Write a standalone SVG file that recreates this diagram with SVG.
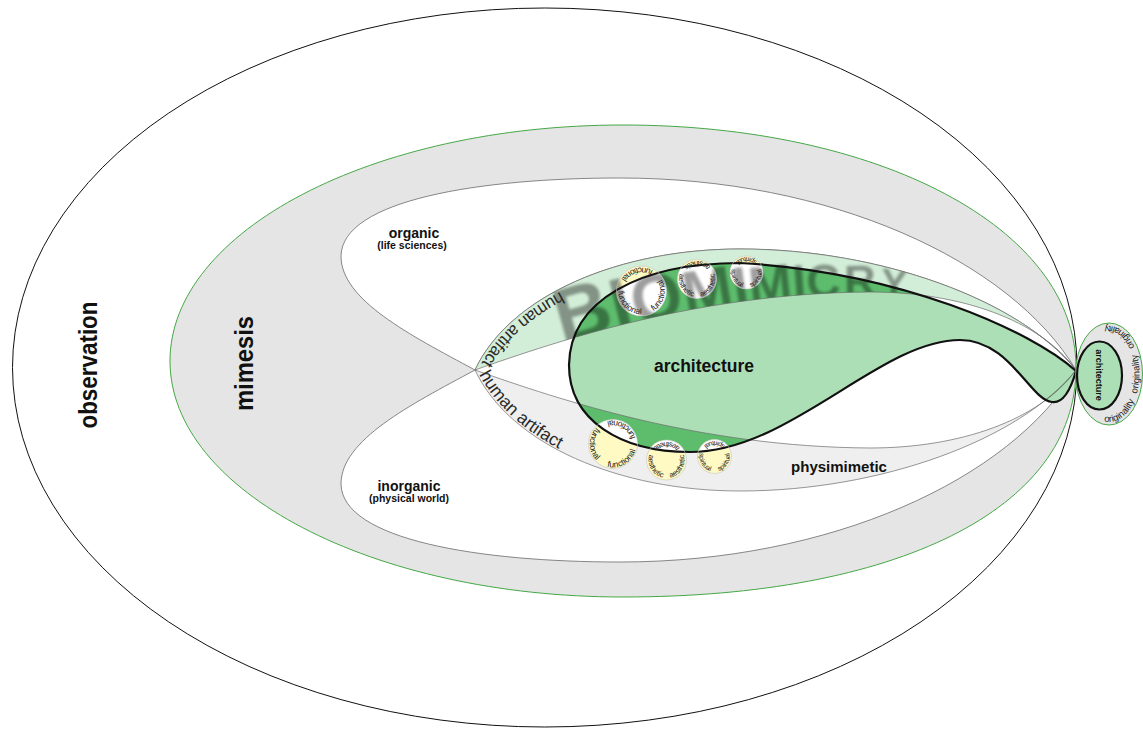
<svg xmlns="http://www.w3.org/2000/svg" width="1143" height="730" viewBox="0 0 1143 730">
<defs>
<style>
.lbl{font-family:"Liberation Sans",Arial,sans-serif;font-weight:bold;fill:#111}
.thin{font-family:"Liberation Sans",Arial,sans-serif;fill:#2a2a2a}
.ct{font-family:"Liberation Sans",Arial,sans-serif;fill:#1e1e1e;text-anchor:middle}
.edge{fill:none;stroke:#6a6a6a;stroke-width:0.7}
.ycirc{fill:#fffac4}
.cedge{fill:none;stroke:#c4c4c4;stroke-width:0.6}
</style>
<clipPath id="cUB"><path d="M475,370 C510,295 620,249 740,249 C880,249 1020,300 1076,370 C1040,320 960,292 870,292 C700,293 560,340 475,370 Z"/></clipPath>
<clipPath id="cLB"><path d="M475,370 C510,445 620,491 740,491 C880,491 1020,440 1076,370 C1040,420 960,448 870,448 C700,447 560,400 475,370 Z"/></clipPath>
<clipPath id="cBlob"><path d="M1076,371 C1030,330 900,272 740,263 C640,263 570,300 569,365 C569,420 620,452 690,452 C790,452 880,340 960,340 C1010,340 1030,400 1052,402 C1065,404 1072,385 1076,371 Z"/></clipPath>
<path id="p25" d="M0,-23.3 A23.3,23.3 0 1 0 0,23.3 A23.3,23.3 0 1 0 0,-23.3"/>
<path id="p20" d="M0,-18 A18,18 0 1 0 0,18 A18,18 0 1 0 0,-18"/>
<path id="p16" d="M0,-15.2 A15.2,15.2 0 1 0 0,15.2 A15.2,15.2 0 1 0 0,-15.2"/>
<path id="bioPath" d="M475,374 C560,344 700,297 870,296 C960,296 1040,324 1076,374"/>
<path id="haU" d="M740,249 C620,249 510,295 475,370"/>
<path id="haL" d="M475,370 C510,445 620,491 740,491"/>
<path id="origP" d="M1078.5,374 A30.5,48 0 1 0 1139.5,374 A30.5,48 0 1 0 1078.5,374"/>
<filter id="blur" x="-10%" y="-20%" width="120%" height="140%"><feGaussianBlur stdDeviation="1.6"/></filter>
</defs>
<rect width="1143" height="730" fill="#fff"/>

<g id="node-observation">
<ellipse cx="544.75" cy="367.5" rx="532.25" ry="359.5" fill="#fff" stroke="#111" stroke-width="1"/>
<text class="lbl" font-size="25" text-anchor="middle" textLength="127" lengthAdjust="spacingAndGlyphs" transform="translate(97,365) rotate(-90)">observation</text>
</g>

<g id="node-mimesis">
<path d="M170,361 C170,231 373,125 623,125 C877,125 1076,227 1076,368 C1076,510 895,597 623,597 C373,597 170,491 170,361 Z" fill="#e5e5e5" stroke="#45a845" stroke-width="1"/>
<text class="lbl" font-size="26" text-anchor="middle" textLength="95" lengthAdjust="spacingAndGlyphs" transform="translate(253,363.5) rotate(-90)">mimesis</text>
</g>

<g id="node-organic">
<path d="M1076,370 C1010,260 830,178 620,178 C480,178 342,200 341,256 C341,300 410,335 475,370 C510,445 620,491 740,491 C880,491 1020,440 1076,370 Z" fill="#fff" stroke="#6a6a6a" stroke-width="0.8"/>
<text class="lbl" font-size="14" x="414" y="238" text-anchor="middle">organic</text>
<text class="lbl" font-size="10.5" x="412" y="248.5" text-anchor="middle">(life sciences)</text>
</g>

<g id="node-inorganic">
<path d="M1076,370 C1010,480 830,562 620,562 C480,562 342,540 341,484 C341,440 410,405 475,370 C510,295 620,249 740,249 C880,249 1020,300 1076,370 Z" fill="#fff" stroke="#6a6a6a" stroke-width="0.8"/>
<text class="lbl" font-size="14" x="409" y="491" text-anchor="middle">inorganic</text>
<text class="lbl" font-size="10.5" x="409" y="501.5" text-anchor="middle">(physical world)</text>
</g>

<g id="node-biomimetic-band">
<path d="M475,370 C510,295 620,249 740,249 C880,249 1020,300 1076,370 C1040,320 960,292 870,292 C700,293 560,340 475,370 Z" fill="#d3eed8"/>
</g>
<g id="node-physimimetic-band">
<path d="M475,370 C510,445 620,491 740,491 C880,491 1020,440 1076,370 C1040,420 960,448 870,448 C700,447 560,400 475,370 Z" fill="#efefef"/>
</g>

<g id="node-architecture">
<path d="M1076,371 C1030,330 900,272 740,263 C640,263 570,300 569,365 C569,420 620,452 690,452 C790,452 880,340 960,340 C1010,340 1030,400 1052,402 C1065,404 1072,385 1076,371 Z" fill="#addfb7"/>
<g clip-path="url(#cUB)"><path d="M1076,371 C1030,330 900,272 740,263 C640,263 570,300 569,365 C569,420 620,452 690,452 C790,452 880,340 960,340 C1010,340 1030,400 1052,402 C1065,404 1072,385 1076,371 Z" fill="#5dbd6d"/></g>
<g clip-path="url(#cLB)"><path d="M1076,371 C1030,330 900,272 740,263 C640,263 570,300 569,365 C569,420 620,452 690,452 C790,452 880,340 960,340 C1010,340 1030,400 1052,402 C1065,404 1072,385 1076,371 Z" fill="#5dbd6d"/></g>
</g>

<g id="node-circles-fill">
<circle class="ycirc" cx="641.5" cy="291" r="25"/>
<circle class="ycirc" cx="697" cy="279" r="19.5"/>
<circle class="ycirc" cx="746.5" cy="272.5" r="16.5"/>
<circle class="ycirc" cx="613" cy="444" r="24.5"/>
<circle class="ycirc" cx="666.5" cy="460" r="20"/>
<circle class="ycirc" cx="714.5" cy="456.5" r="17"/>
<g clip-path="url(#cBlob)" fill="#fff">
<circle cx="641.5" cy="291" r="25"/>
<circle cx="697" cy="279" r="19.5"/>
<circle cx="746.5" cy="272.5" r="16.5"/>
<circle cx="613" cy="444" r="24.5"/>
<circle cx="666.5" cy="460" r="20"/>
<circle cx="714.5" cy="456.5" r="17"/>
</g>
</g>

<g id="biomimicry-word" clip-path="url(#cUB)">
<text font-family="Liberation Sans, Arial, sans-serif" font-weight="bold" fill="#000" opacity="0.38" filter="url(#blur)"><textPath href="#bioPath" startOffset="92"><tspan font-size="78">B</tspan><tspan font-size="72">I</tspan><tspan font-size="66">O</tspan><tspan font-size="60">M</tspan><tspan font-size="55">I</tspan><tspan font-size="52">M</tspan><tspan font-size="49">I</tspan><tspan font-size="47">C</tspan><tspan font-size="44" dx="3">R</tspan><tspan font-size="40" dx="4">Y</tspan></textPath></text>
</g>

<g id="connectors">
<path class="edge" d="M475,370 C510,295 620,249 740,249 C880,249 1020,300 1076,370 C1040,320 960,292 870,292 C700,293 560,340 475,370 Z"/>
<path class="edge" d="M475,370 C510,445 620,491 740,491 C880,491 1020,440 1076,370 C1040,420 960,448 870,448 C700,447 560,400 475,370 Z"/>
</g>

<g id="node-architecture-outline">
<path d="M1076,371 C1030,330 900,272 740,263 C640,263 570,300 569,365 C569,420 620,452 690,452 C790,452 880,340 960,340 C1010,340 1030,400 1052,402 C1065,404 1072,385 1076,371 Z" fill="none" stroke="#111" stroke-width="2.2"/>
<text class="lbl" font-size="17.5" x="704" y="372" text-anchor="middle">architecture</text>
</g>

<g id="node-functional-upper" transform="translate(641.5,291)">
<circle r="25" class="cedge"/>
<text class="ct" font-size="8.5" transform="rotate(-75)"><textPath href="#p25" startOffset="50%">functional</textPath></text>
<text class="ct" font-size="8.5" transform="rotate(45)"><textPath href="#p25" startOffset="50%">functional</textPath></text>
<text class="ct" font-size="8.5" transform="rotate(165)"><textPath href="#p25" startOffset="50%">functional</textPath></text>
</g>
<g id="node-aesthetic-upper" transform="translate(697,279)">
<circle r="19.5" class="cedge"/>
<text class="ct" font-size="7.5" transform="rotate(-60)"><textPath href="#p20" startOffset="50%">aesthetic</textPath></text>
<text class="ct" font-size="7.5" transform="rotate(60)"><textPath href="#p20" startOffset="50%">aesthetic</textPath></text>
<text class="ct" font-size="7.5" transform="rotate(180)"><textPath href="#p20" startOffset="50%">aesthetic</textPath></text>
</g>
<g id="node-spiritual-upper" transform="translate(746.5,272.5)">
<circle r="16.5" class="cedge"/>
<text class="ct" font-size="6.8" transform="rotate(-60)"><textPath href="#p16" startOffset="50%">spiritual</textPath></text>
<text class="ct" font-size="6.8" transform="rotate(60)"><textPath href="#p16" startOffset="50%">spiritual</textPath></text>
<text class="ct" font-size="6.8" transform="rotate(180)"><textPath href="#p16" startOffset="50%">spiritual</textPath></text>
</g>
<g id="node-functional-lower" transform="translate(613,444)">
<circle r="24.5" class="cedge"/>
<text class="ct" font-size="8.5" transform="rotate(-30)"><textPath href="#p25" startOffset="50%">functional</textPath></text>
<text class="ct" font-size="8.5" transform="rotate(90)"><textPath href="#p25" startOffset="50%">functional</textPath></text>
<text class="ct" font-size="8.5" transform="rotate(210)"><textPath href="#p25" startOffset="50%">functional</textPath></text>
</g>
<g id="node-aesthetic-lower" transform="translate(666.5,460)">
<circle r="20" class="cedge"/>
<text class="ct" font-size="7.5" transform="rotate(-60)"><textPath href="#p20" startOffset="50%">aesthetic</textPath></text>
<text class="ct" font-size="7.5" transform="rotate(60)"><textPath href="#p20" startOffset="50%">aesthetic</textPath></text>
<text class="ct" font-size="7.5" transform="rotate(180)"><textPath href="#p20" startOffset="50%">aesthetic</textPath></text>
</g>
<g id="node-spiritual-lower" transform="translate(714.5,456.5)">
<circle r="17" class="cedge"/>
<text class="ct" font-size="6.8" transform="rotate(-60)"><textPath href="#p16" startOffset="50%">spiritual</textPath></text>
<text class="ct" font-size="6.8" transform="rotate(60)"><textPath href="#p16" startOffset="50%">spiritual</textPath></text>
<text class="ct" font-size="6.8" transform="rotate(180)"><textPath href="#p16" startOffset="50%">spiritual</textPath></text>
</g>

<g id="label-human-artifact-upper">
<text class="thin" font-size="17" transform="translate(2,2)"><textPath href="#haU" startOffset="188">human artifact</textPath></text>
</g>
<g id="label-human-artifact-lower">
<text class="thin" font-size="17.5" transform="translate(1.5,-1)"><textPath href="#haL" startOffset="6">human artifact</textPath></text>
</g>
<g id="label-physimimetic">
<text class="lbl" font-size="15" x="839" y="472" text-anchor="middle">physimimetic</text>
</g>

<g id="node-originality">
<ellipse cx="1109" cy="374" rx="33.5" ry="51" fill="#e5e5e5" stroke="#45a845" stroke-width="1"/>
<ellipse cx="1099.5" cy="375.5" rx="22.5" ry="34" fill="#addfb7" stroke="#111" stroke-width="2.2"/>
<text class="lbl" font-size="9" text-anchor="middle" transform="translate(1095.5,375) rotate(90)">architecture</text>
<text class="ct" font-size="9.5"><textPath href="#origP" startOffset="31%">originality</textPath></text>
<text class="ct" font-size="9.5"><textPath href="#origP" startOffset="50%">originality</textPath></text>
<text class="ct" font-size="9.5"><textPath href="#origP" startOffset="69%">originality</textPath></text>
</g>
</svg>
